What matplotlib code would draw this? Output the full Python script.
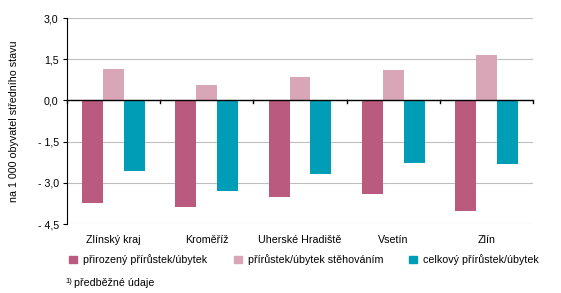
import numpy as np
import matplotlib
matplotlib.use("Agg")
from matplotlib import pyplot as plt
from matplotlib.patches import Patch

categories = ['Zlínský kraj', 'Kroměříž', 'Uherské Hradiště', 'Vsetín', 'Zlín']
prirozeny = [-3.73, -3.88, -3.52, -3.41, -4.04]
stehovani = [1.13, 0.55, 0.84, 1.09, 1.67]
celkovy = [-2.57, -3.30, -2.69, -2.28, -2.33]
series_names = ['přirozený přírůstek/úbytek', 'přírůstek/úbytek stěhováním',
                'celkový přírůstek/úbytek']
colors = ['#BA5A7E', '#D8A6B6', '#009DB7']

plt.rcParams['font.family'] = ['Liberation Sans', 'DejaVu Sans']
fs = 7.7

fig = plt.figure(figsize=(5.61, 2.93), dpi=100)
ax = fig.add_axes([67 / 561, 1 - 224 / 293, (533 - 67) / 561, (224 - 18) / 293])

x = np.arange(len(categories))
w = 0.225
for i, vals in enumerate([prirozeny, stehovani, celkovy]):
    ax.bar(x + (i - 1) * w, vals, w, color=colors[i], zorder=3)

ax.set_xlim(-0.5, len(categories) - 0.5)
ax.set_ylim(-4.5, 3.0)
yt = [3.0, 1.5, 0.0, -1.5, -3.0, -4.5]
ax.set_yticks(yt)
ax.set_yticklabels([('- ' if v < 0 else '') + f'{abs(v):.1f}'.replace('.', ',') for v in yt])
ax.yaxis.grid(True, color='#BEBEBE', linewidth=0.8, zorder=0)
ax.tick_params(axis='y', length=3, width=0.8, pad=3, labelsize=fs)

for s in ['top', 'right', 'bottom']:
    ax.spines[s].set_visible(False)
ax.spines['left'].set_linewidth(0.8)

# zero line with ticks at category boundaries
ax.axhline(0, color='black', linewidth=1.0, zorder=4)
for b in np.arange(-0.5, len(categories), 1.0):
    ax.plot([b, b], [0, -0.1], color='black', linewidth=1.0, zorder=4, clip_on=False)

ax.set_xticks(x)
ax.set_xticklabels(categories)
ax.tick_params(axis='x', length=0, pad=8, labelsize=fs)

ax.set_ylabel('na 1 000 obyvatel středního stavu', fontsize=fs, labelpad=13)

# legend items placed individually
leg_x = [64, 229, 404]
for name, c, lx in zip(series_names, colors, leg_x):
    fig.legend(handles=[Patch(color=c, label=name)], loc='center left',
               bbox_to_anchor=(lx / 561, 1 - 260 / 293), frameon=False,
               handlelength=0.7, handleheight=0.7, handletextpad=0.6,
               borderpad=0, fontsize=fs)

fig.text(65 / 561, 1 - 283 / 293, '1)', fontsize=5.5, va='baseline')
fig.text(74 / 561, 1 - 286 / 293, 'předběžné údaje', fontsize=fs, va='baseline')

fig.savefig('out.png', dpi=100)
